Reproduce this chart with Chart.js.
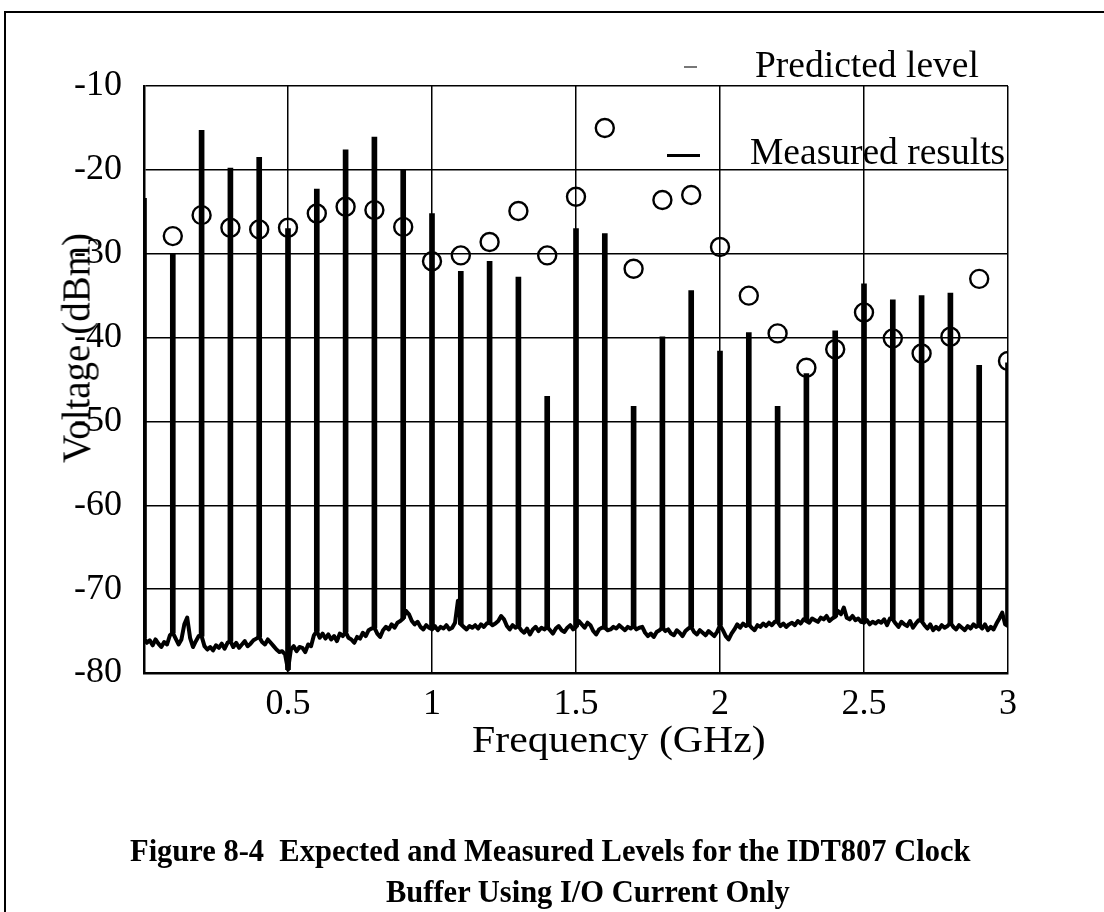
<!DOCTYPE html>
<html>
<head>
<meta charset="utf-8">
<script src="https://cdn.jsdelivr.net/npm/chart.js@4.4.1/dist/chart.umd.min.js"></script>
<style>
  html, body { margin: 0; padding: 0; background: #fff; }
  #wrap { position: relative; width: 1104px; height: 912px; overflow: hidden; background: #fff;
          font-family: "Liberation Serif", "Times New Roman", serif; color: #000; }
  #chart { position: absolute; left: 0; top: 0; }
  .frameTop { position: absolute; left: 4px; top: 11px; width: 1100px; height: 2px; background: #000; }
  .frameLeft { position: absolute; left: 4px; top: 11px; width: 2px; height: 901px; background: #000; }
  .txt { position: absolute; white-space: nowrap; line-height: 1; }
  .legText { font-size: 37.5px; }
  .cap { font-weight: bold; font-size: 30.5px; }
</style>
</head>
<body>
<div id="wrap">
  <canvas id="chart" width="1104" height="912"></canvas>
  <div class="frameTop"></div>
  <div class="frameLeft"></div>
  <div style="position:absolute;left:684px;top:66px;width:13px;height:2px;background:#777;"></div>
  <div class="txt legText" style="left:755px;top:46px;">Predicted level</div>
  <div style="position:absolute;left:667px;top:154px;width:33px;height:3px;background:#000;"></div>
  <div class="txt legText" style="left:750px;top:133px;">Measured results</div>
  <div class="txt" style="left:472px;top:720px;font-size:38px;transform-origin:0 0;transform:scaleX(1.1);">Frequency (GHz)</div>
  <div class="txt" style="left:76px;top:348px;font-size:39px;transform:translate(-50%,-50%) rotate(-90deg);">Voltage (dBm)</div>
  <div class="txt cap" style="left:130px;top:836px;">Figure 8-4&nbsp;&nbsp;Expected and Measured Levels for the IDT807 Clock</div>
  <div class="txt cap" style="left:386px;top:877px;">Buffer Using I/O Current Only</div>
</div>
<script>
// ---- data ----
// harmonic frequencies (GHz) of the clock spectrum
const harmonicGHz = [0.0, 0.1, 0.2, 0.3, 0.4, 0.5, 0.6, 0.7, 0.8, 0.9, 1.0,
  1.1, 1.2, 1.3, 1.4, 1.5, 1.6, 1.7, 1.8, 1.9, 2.0,
  2.1, 2.2, 2.3, 2.4, 2.5, 2.6, 2.7, 2.8, 2.9, 3.0];
// measured spike tops (dBm)
const measuredPeak = [-23.4, -30.0, -15.3, -19.8, -18.5, -27.0, -22.3, -17.6, -16.1, -20.0, -25.2,
  -32.1, -30.9, -32.8, -47.0, -27.0, -27.6, -48.2, -39.9, -34.4, -41.6,
  -39.4, -48.2, -44.3, -39.2, -33.6, -35.5, -35.0, -34.7, -43.3, -43.0];
// predicted levels (circles) at 0.1 ... 3.0 GHz
const predictedGHz = [0.1, 0.2, 0.3, 0.4, 0.5, 0.6, 0.7, 0.8, 0.9, 1.0,
  1.1, 1.2, 1.3, 1.4, 1.5, 1.6, 1.7, 1.8, 1.9, 2.0,
  2.1, 2.2, 2.3, 2.4, 2.5, 2.6, 2.7, 2.8, 2.9, 3.0];
const predictedLevel = [-27.9, -25.4, -26.9, -27.1, -26.9, -25.2, -24.4, -24.8, -26.8, -30.9,
  -30.2, -28.6, -24.9, -30.2, -23.2, -15.0, -31.8, -23.6, -23.0, -29.2,
  -35.0, -39.5, -43.6, -41.4, -37.0, -40.1, -41.9, -39.9, -33.0, -42.8];
// measured noise floor (dBm), sampled every 0.01 GHz from 0.00 to 3.00 GHz
const floorStepGHz = 0.01;
const noiseFloor = [
  -75.8, -76.4, -76.1, -76.7, -76.0, -76.5, -76.9, -76.3, -76.6, -75.5,
  -75.2, -75.9, -76.6, -76.0, -74.2, -73.4, -75.8, -76.9, -76.2, -75.6,
  -75.6, -76.8, -77.2, -76.9, -77.3, -76.7, -77.0, -76.5, -77.1, -76.4,
  -76.2, -76.9, -76.4, -77.0, -76.6, -76.2, -76.8, -76.5, -76.1, -75.9,
  -75.7, -76.3, -76.6, -76.0, -76.4, -76.8, -77.2, -77.5, -77.4, -77.8,
  -79.6, -77.2, -76.8, -77.4, -76.9, -77.0, -77.5, -76.6, -76.8, -75.5,
  -75.0, -75.8, -75.3, -75.9, -75.4, -76.0, -75.6, -76.2, -75.3, -75.6,
  -75.1, -75.8, -76.0, -76.4, -75.7, -75.9, -75.2, -75.6, -74.9, -74.7,
  -74.6, -75.3, -75.7, -74.9, -74.5, -74.8, -74.2, -74.6, -74.0, -73.8,
  -73.5, -72.6, -73.0, -73.8, -74.2, -73.9, -74.5, -74.8, -74.3, -74.6,
  -74.8, -74.4, -74.9, -74.5, -74.7, -74.3, -74.8, -74.6, -74.0, -71.4,
  -74.2, -74.5, -74.8, -74.4, -74.6, -74.3, -74.7, -74.2, -74.5, -74.1,
  -74.0, -74.3, -74.1, -73.8, -73.2, -73.6, -74.4, -74.8, -74.3, -74.6,
  -74.4, -74.9, -75.2, -74.7, -75.4, -74.8, -74.5, -75.0, -74.6, -74.8,
  -74.5, -74.9, -75.3, -74.7, -74.4, -74.9, -75.1, -74.6, -74.3, -74.8,
  -74.5, -73.8, -74.2, -74.6, -74.0, -74.3, -75.0, -75.4, -74.8, -74.6,
  -74.6, -74.9, -74.8, -74.5, -74.7, -74.3, -74.6, -74.9, -74.5, -74.7,
  -74.4, -74.8, -74.6, -74.5, -75.2, -75.6, -75.3, -75.7, -75.1, -74.9,
  -74.6, -75.0, -74.8, -75.3, -75.5, -74.9, -75.2, -75.6, -75.0, -74.7,
  -74.5, -75.1, -75.4, -74.9, -75.2, -75.5, -75.0, -75.3, -75.6, -75.1,
  -74.3, -74.9, -75.6, -76.0, -75.3, -74.8, -74.2, -74.6, -74.1, -74.4,
  -74.2, -74.6, -74.9, -74.3, -74.5, -74.1, -74.4, -74.0, -74.3, -73.9,
  -73.9, -74.4, -74.1, -74.5, -74.2, -74.0, -74.3, -73.8, -74.1, -73.6,
  -73.8, -74.0, -73.5, -73.7, -73.9, -73.4, -73.6, -73.2, -73.8, -73.5,
  -73.3, -72.6, -73.0, -72.2, -73.4, -73.6, -73.2, -73.7, -73.5, -73.9,
  -74.0, -73.7, -74.2, -73.9, -74.1, -73.8, -74.0, -73.6, -74.3, -73.5,
  -73.6, -74.1, -74.5, -73.9, -74.2, -74.4, -73.8, -74.6, -74.1, -73.7,
  -73.8, -74.3, -74.7, -74.2, -74.9, -74.5, -74.8, -74.3, -74.6, -74.4,
  -74.0, -74.5, -74.8, -74.3, -74.6, -74.9, -74.4, -74.7, -74.2, -74.5,
  -74.3, -74.7, -74.2, -74.9, -74.5, -74.8, -74.1, -73.5, -72.8, -74.2,
  -74.4
];
const xTickValues = [0.5, 1, 1.5, 2, 2.5, 3];
const yTickValues = [-10, -20, -30, -40, -50, -60, -70, -80];

// ---- build datasets ----
const floorPoints = noiseFloor.map((v, i) => ({ x: +(i * floorStepGHz).toFixed(2), y: v }));
const floorAt = f => noiseFloor[Math.round(f / floorStepGHz)];
const spikeBars = harmonicGHz.map((f, i) => ({ x: f, y: [floorAt(f), measuredPeak[i]] }));
const predictedPoints = predictedGHz.map((f, i) => ({ x: f, y: predictedLevel[i] }));

const FONT = '"Liberation Serif", "Times New Roman", serif';

new Chart(document.getElementById('chart'), {
  type: 'line',
  data: {
    datasets: [
      { type: 'scatter', label: 'Predicted level', data: predictedPoints, order: 0,
        showLine: false, pointStyle: 'circle', pointRadius: 9, pointBorderWidth: 2.4,
        pointBorderColor: '#000', pointBackgroundColor: 'rgba(0,0,0,0)' },
      { type: 'bar', label: 'Measured spikes', data: spikeBars, order: 1,
        backgroundColor: '#000', borderWidth: 0, barThickness: 5, grouped: false },
      { type: 'line', label: 'Measured results', data: floorPoints, order: 2,
        borderColor: '#000', borderWidth: 4, pointRadius: 0, tension: 0,
        borderJoinStyle: 'round', fill: false }
    ]
  },
  options: {
    responsive: false,
    animation: false,
    events: [],
    layout: { padding: { left: 0, top: 86, right: 96, bottom: 179 } },
    plugins: { legend: { display: false }, tooltip: { enabled: false }, title: { display: false } },
    scales: {
      x: {
        type: 'linear', min: 0, max: 3, offset: false,
        afterFit: s => { s.height = 60; },
        afterBuildTicks: s => { s.ticks = [0].concat(xTickValues).map(v => ({ value: v })); },
        ticks: { color: '#000', font: { family: FONT, size: 36 }, padding: 10, maxRotation: 0,
                 autoSkip: false, callback: v => (v === 0 ? '' : String(v)) },
        grid: { color: '#000', lineWidth: 1.5, drawTicks: false, offset: false },
        border: { display: true, color: '#000', width: 2.5 }
      },
      y: {
        type: 'linear', min: -80, max: -10,
        afterFit: s => { s.width = 144; },
        afterBuildTicks: s => { s.ticks = yTickValues.map(v => ({ value: v })); },
        ticks: { color: '#000', font: { family: FONT, size: 36 }, padding: 22, autoSkip: false,
                 callback: v => String(v) },
        grid: { color: '#000', lineWidth: 1.5, drawTicks: false },
        border: { display: true, color: '#000', width: 2.5 }
      }
    }
  }
});
</script>
</body>
</html>
